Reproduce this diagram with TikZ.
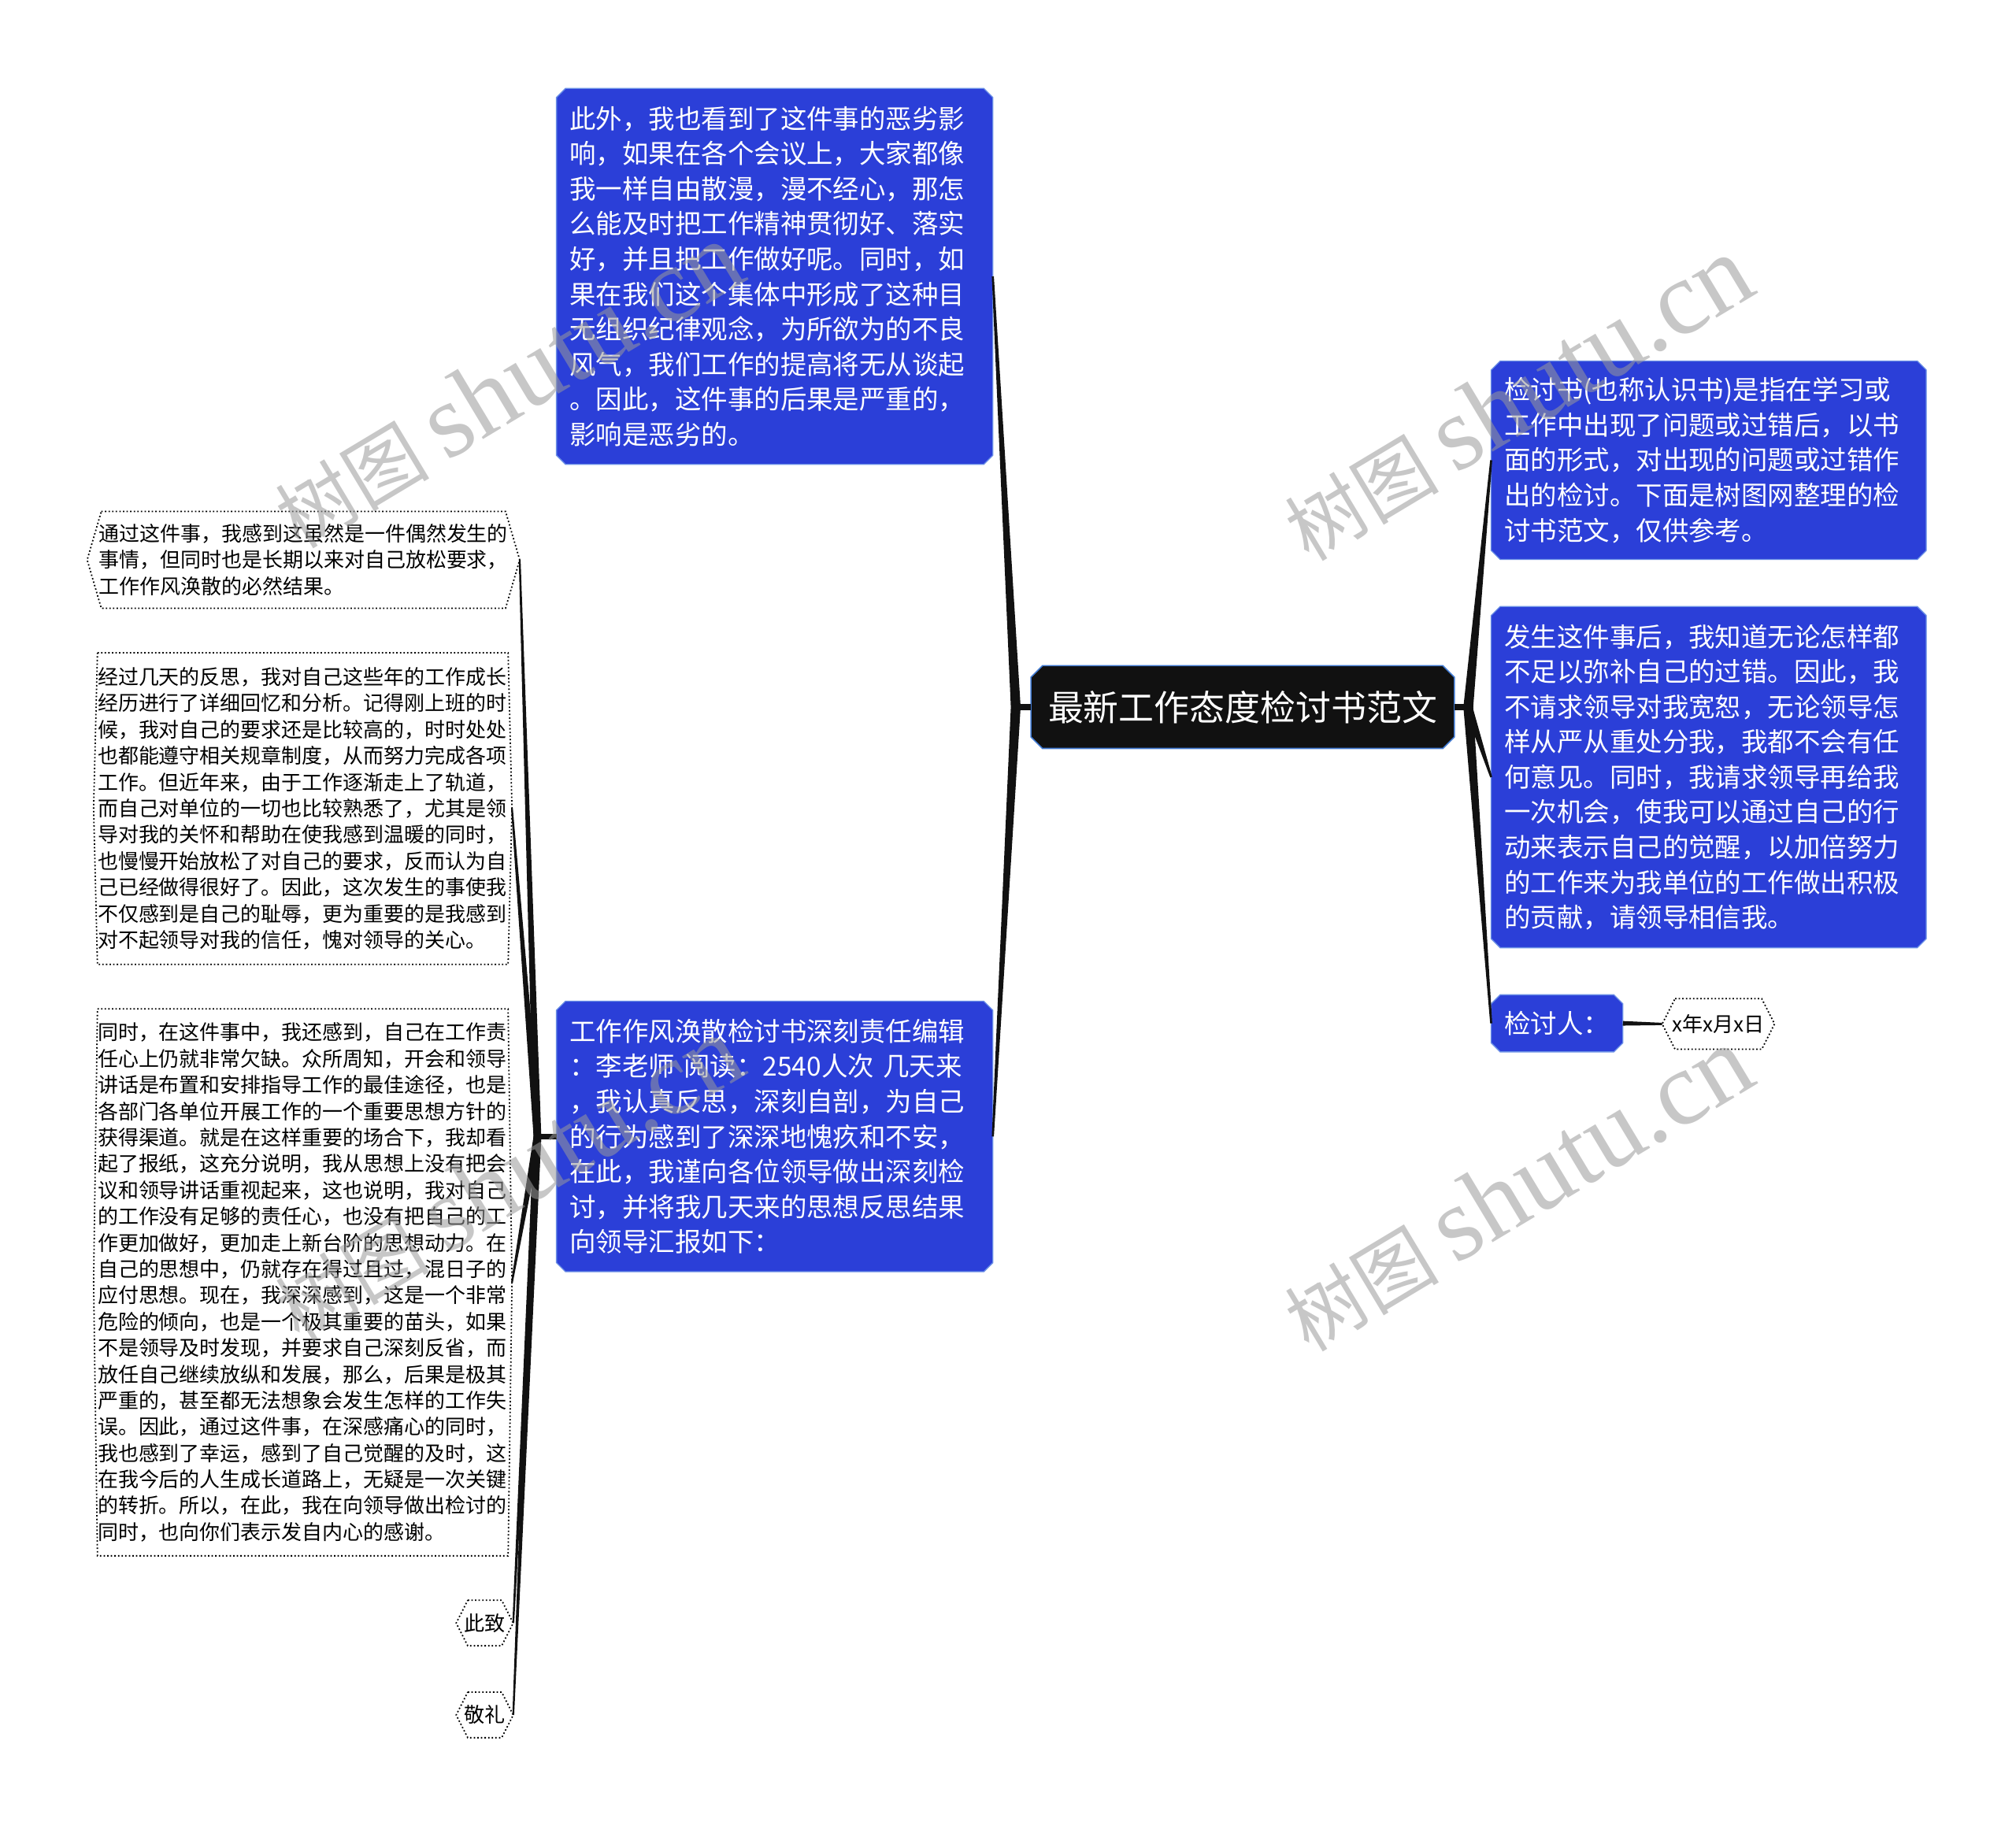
\documentclass[tikz,border=0pt]{standalone}
\usepackage{fontspec}
\setmainfont{Noto Sans CJK SC}
\newfontfamily\wmlatin{Liberation Serif}
\usetikzlibrary{calc}
\pgfdeclarelayer{bg}\pgfdeclarelayer{fg}
\pgfsetlayers{bg,main,fg}
\definecolor{nodeblue}{HTML}{2B3FD8}
\definecolor{nodeborder}{HTML}{6A8FE6}
\definecolor{centerfill}{HTML}{111111}
\definecolor{centerborder}{HTML}{3F78D0}
\definecolor{linkc}{HTML}{111111}
\definecolor{wmgray}{HTML}{9A9A9A}
\newcommand\chamf[3]{\begin{pgfonlayer}{bg}\path[#3] ($(#1.north west)+(#2,0)$) -- ($(#1.north east)+(-#2,0)$) -- ($(#1.north east)+(0,#2)$) -- ($(#1.south east)+(0,-#2)$) -- ($(#1.south east)+(-#2,0)$) -- ($(#1.south west)+(#2,0)$) -- ($(#1.south west)+(0,-#2)$) -- ($(#1.north west)+(0,#2)$) -- cycle;\end{pgfonlayer}}
\newcommand\hexo[2]{\draw[dotline] ($(#1.north west)+(#2,0)$) -- ($(#1.north east)+(-#2,0)$) -- (#1.east) -- ($(#1.south east)+(-#2,0)$) -- ($(#1.south west)+(#2,0)$) -- (#1.west) -- cycle;}
\newcommand\taper[4]{\fill[linkc] ($(#1)!#3!90:(#2)$) -- ($(#2)!#4!-90:(#1)$) -- ($(#2)!#4!90:(#1)$) -- ($(#1)!#3!-90:(#2)$) -- cycle;}
\begin{document}
\begin{tikzpicture}[x=1pt,y=-1pt,
  bluebox/.style={rectangle, inner ysep=0pt, inner xsep=10pt, align=left, text=white,
    font=\fontsize{20.5pt}{27.3pt}\selectfont},
  bluefill/.style={fill=nodeblue, draw=nodeborder, line width=0.8pt},
  centerbox/.style={rectangle, inner sep=0pt, text=white, align=center,
    font=\fontsize{27.5pt}{30pt}\selectfont},
  centerfill/.style={fill=centerfill, draw=centerborder, line width=1pt},
  dotbox/.style={rectangle, inner ysep=0pt, align=left, text=black,
    font=\fontsize{15.9pt}{20.45pt}\selectfont},
  smallhex/.style={rectangle, inner sep=0pt, align=center, text=black,
    font=\fontsize{16pt}{19pt}\selectfont},
  dotline/.style={draw=black, line width=1.1pt, dash pattern=on 1.1pt off 1.7pt},
  wm/.style={rotate=31, text=wmgray, text opacity=0.55, inner sep=0pt,
    font=\fontsize{60pt}{60pt}\selectfont},
  stub/.style={draw=linkc, line width=5pt}
]
\useasboundingbox (0,0) rectangle (1568,1420);
\begin{pgfonlayer}{bg}
\fill[white] (0,0) rectangle (1568,1420);
\end{pgfonlayer}

% ---------- center ----------
\node[centerbox, minimum width=329pt, minimum height=64pt] (c) at (966.5,550) {最新工作态度检讨书范文};
\chamf{c}{9}{centerfill}

% ---------- blue nodes ----------
\node[bluebox, text width=319pt, minimum height=292pt] (tl) at (602.5,215) {此外，我也看到了这件事的恶劣影\\响，如果在各个会议上，大家都像\\我一样自由散漫，漫不经心，那怎\\么能及时把工作精神贯彻好、落实\\好，并且把工作做好呢。同时，如\\果在我们这个集体中形成了这种目\\无组织纪律观念，为所欲为的不良\\风气，我们工作的提高将无从谈起\\。因此，这件事的后果是严重的，\\影响是恶劣的。};
\chamf{tl}{7}{bluefill}

\node[bluebox, text width=319pt, minimum height=210pt] (bl) at (602.5,884) {工作作风涣散检讨书深刻责任编辑\\：李老师 阅读：2540人次 几天来\\，我认真反思，深刻自剖，为自己\\的行为感到了深深地愧疚和不安，\\在此，我谨向各位领导做出深刻检\\讨，并将我几天来的思想反思结果\\向领导汇报如下：};
\chamf{bl}{7}{bluefill}

\node[bluebox, text width=318pt, minimum height=154pt] (r1) at (1329,358) {检讨书(也称认识书)是指在学习或\\工作中出现了问题或过错后，以书\\面的形式，对出现的问题或过错作\\出的检讨。下面是树图网整理的检\\讨书范文，仅供参考。};
\chamf{r1}{7}{bluefill}

\node[bluebox, text width=318pt, minimum height=265pt] (r2) at (1329,604.5) {发生这件事后，我知道无论怎样都\\不足以弥补自己的过错。因此，我\\不请求领导对我宽恕，无论领导怎\\样从严从重处分我，我都不会有任\\何意见。同时，我请求领导再给我\\一次机会，使我可以通过自己的行\\动来表示自己的觉醒，以加倍努力\\的工作来为我单位的工作做出积极\\的贡献，请领导相信我。};
\chamf{r2}{7}{bluefill}

\node[bluebox, align=center, inner xsep=0pt, minimum width=102pt, minimum height=44pt] (r3) at (1211,796) {检讨人：};
\chamf{r3}{7}{bluefill}

\node[smallhex, minimum width=87pt, minimum height=39pt] (dt) at (1336.5,796.5) {x年x月x日};
\hexo{dt}{10}

% ---------- left dotted nodes ----------
\node[dotbox, text width=318pt, inner xsep=9pt, minimum height=75pt] (l1) at (236,435.5) {通过这件事，我感到这虽然是一件偶然发生的\\事情，但同时也是长期以来对自己放松要求，\\工作作风涣散的必然结果。};
\hexo{l1}{11}

\node[dotbox, text width=319pt, inner xsep=3pt, minimum height=242pt] (l2) at (235.5,629) {经过几天的反思，我对自己这些年的工作成长\\经历进行了详细回忆和分析。记得刚上班的时\\候，我对自己的要求还是比较高的，时时处处\\也都能遵守相关规章制度，从而努力完成各项\\工作。但近年来，由于工作逐渐走上了轨道，\\而自己对单位的一切也比较熟悉了，尤其是领\\导对我的关怀和帮助在使我感到温暖的同时，\\也慢慢开始放松了对自己的要求，反而认为自\\己已经做得很好了。因此，这次发生的事使我\\不仅感到是自己的耻辱，更为重要的是我感到\\对不起领导对我的信任，愧对领导的关心。};
\hexo{l2}{3}

\node[dotbox, text width=319pt, inner xsep=3pt, minimum height=425pt] (l3) at (235.5,997.5) {同时，在这件事中，我还感到，自己在工作责\\任心上仍就非常欠缺。众所周知，开会和领导\\讲话是布置和安排指导工作的最佳途径，也是\\各部门各单位开展工作的一个重要思想方针的\\获得渠道。就是在这样重要的场合下，我却看\\起了报纸，这充分说明，我从思想上没有把会\\议和领导讲话重视起来，这也说明，我对自己\\的工作没有足够的责任心，也没有把自己的工\\作更加做好，更加走上新台阶的思想动力。在\\自己的思想中，仍就存在得过且过，混日子的\\应付思想。现在，我深深感到，这是一个非常\\危险的倾向，也是一个极其重要的苗头，如果\\不是领导及时发现，并要求自己深刻反省，而\\放任自己继续放纵和发展，那么，后果是极其\\严重的，甚至都无法想象会发生怎样的工作失\\误。因此，通过这件事，在深感痛心的同时，\\我也感到了幸运，感到了自己觉醒的及时，这\\在我今后的人生成长道路上，无疑是一次关键\\的转折。所以，在此，我在向领导做出检讨的\\同时，也向你们表示发自内心的感谢。};
\hexo{l3}{3}

\node[smallhex, minimum width=44pt, minimum height=35pt] (l4) at (377,1262.5) {此致};
\hexo{l4}{9}
\node[smallhex, minimum width=44pt, minimum height=35pt] (l5) at (377,1334) {敬礼};
\hexo{l5}{9}

% ---------- connectors ----------
\coordinate (jl) at (790,550);
\coordinate (jr) at (1142,550);
\coordinate (jb) at (418,884);
\draw[stub] (c.west) -- (jl);
\draw[stub] (c.east) -- (jr);
\draw[stub, line width=4pt] (bl.west) -- (jb);
\taper{jl}{tl.east}{3.8pt}{0.8pt}
\taper{jl}{bl.east}{3.8pt}{0.8pt}
\taper{jr}{r1.west}{3.8pt}{0.8pt}
\taper{jr}{r2.west}{3.2pt}{0.8pt}
\taper{jr}{r3.west}{3.8pt}{0.8pt}
\taper{r3.east}{dt.west}{1.8pt}{0.9pt}
\taper{jb}{l1.east}{3pt}{0.7pt}
\taper{jb}{l2.east}{3pt}{0.7pt}
\taper{jb}{l3.east}{3pt}{0.7pt}
\taper{jb}{l4.east}{3pt}{0.7pt}
\taper{jb}{l5.east}{3pt}{0.7pt}

% ---------- watermarks ----------
\begin{pgfonlayer}{fg}
\node[wm] (wm1) at (395,300) {树图 {\wmlatin\fontsize{82pt}{82pt}\selectfont shutu.cn}};
\node[wm] (wm2) at (1180,310) {树图 {\wmlatin\fontsize{82pt}{82pt}\selectfont shutu.cn}};
\node[wm] (wm3) at (395,917) {树图 {\wmlatin\fontsize{82pt}{82pt}\selectfont shutu.cn}};
\node[wm] (wm4) at (1180,925) {树图 {\wmlatin\fontsize{82pt}{82pt}\selectfont shutu.cn}};
\end{pgfonlayer}
\end{tikzpicture}
\end{document}
